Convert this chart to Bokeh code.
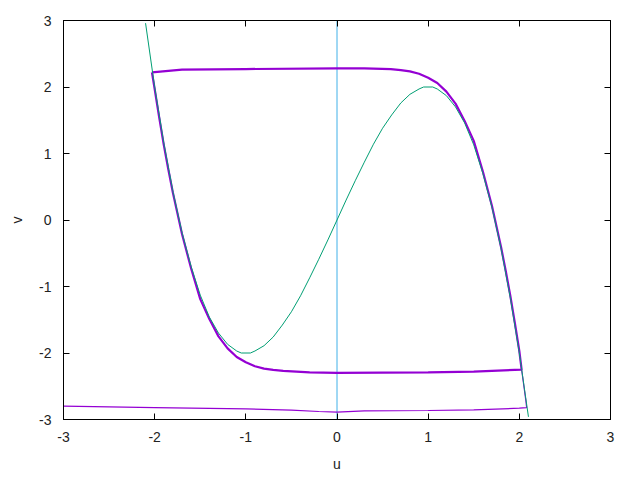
from bokeh.plotting import figure
from bokeh.models import LinearAxis, Range1d, FixedTicker
from bokeh.embed import file_html
from bokeh.resources import INLINE

# nullcline (green)
null_u = [-2.10, -2.0, -1.9, -1.8, -1.7, -1.6, -1.5, -1.4, -1.3, -1.2, -1.1, -1.05, -0.95, -0.9, -0.8, -0.7,
          -0.6, -0.5, -0.4, -0.3, -0.2, -0.1, 0.0, 0.1, 0.2, 0.3, 0.4, 0.5, 0.6, 0.7, 0.8, 0.9, 0.95, 1.05,
          1.1, 1.2, 1.3, 1.4, 1.5, 1.6, 1.7, 1.8, 1.9, 2.0, 2.1]
null_v = [2.96, 2.0, 1.16, 0.43, -0.19, -0.70, -1.13, -1.46, -1.70, -1.87, -1.97, -2.0, -2.0, -1.97, -1.89, -1.76,
          -1.58, -1.38, -1.14, -0.87, -0.59, -0.30, 0.0, 0.30, 0.59, 0.87, 1.14, 1.38, 1.58, 1.76, 1.89, 1.97, 2.0, 2.0,
          1.97, 1.87, 1.70, 1.46, 1.13, 0.70, 0.19, -0.43, -1.16, -2.0, -2.96]

# limit cycle (purple)
cyc_u = [-2.03, -1.7, -1.0, 0.0, 0.3, 0.59, 0.7, 0.8, 0.9, 1.0, 1.1, 1.2, 1.3, 1.4, 1.5, 1.6, 1.7, 1.8, 1.85, 1.9,
         1.95, 2.0, 2.025,
         1.5, 1.0, 0.0, -0.3, -0.59, -0.7, -0.8, -0.9, -1.0, -1.1, -1.2, -1.3, -1.4, -1.5, -1.6, -1.7, -1.8, -1.85,
         -1.9, -1.95, -2.0, -2.03]
cyc_v = [2.22, 2.26, 2.27, 2.28, 2.28, 2.27, 2.255, 2.235, 2.20, 2.14, 2.06, 1.93, 1.75, 1.49, 1.19, 0.73, 0.21, -0.41,
         -0.76, -1.13, -1.54, -1.97, -2.25,
         -2.28, -2.29, -2.30, -2.29, -2.27, -2.255, -2.235, -2.20, -2.14, -2.06, -1.93, -1.75, -1.49, -1.19, -0.73,
         -0.21, 0.41, 0.76, 1.13, 1.54, 1.97, 2.22]

# transient trajectory (purple)
tr_u = [-3.0, -2.0, -1.0, -0.5, -0.2, 0.0, 0.3, 1.0, 1.5, 2.0, 2.08, 2.07, 2.05, 2.025]
tr_v = [-2.80, -2.82, -2.84, -2.86, -2.88, -2.89, -2.87, -2.865, -2.855, -2.83, -2.82, -2.7, -2.5, -2.25]

# vertical line at u = 0
vl_u = [0.0, 0.0]
vl_v = [-3.0, 3.0]

ticks = [-3, -2, -1, 0, 1, 2, 3]
tick_labels = ["-3", "-2", "-1", "0", "1", "2", "3"]

p = figure(width=640, height=480, output_backend="svg", toolbar_location=None,
           x_range=Range1d(-3, 3), y_range=Range1d(-3, 3),
           min_border_left=63, min_border_right=30, min_border_top=20, min_border_bottom=61,
           x_axis_label="u", y_axis_label="v")
p.grid.visible = False
p.outline_line_color = "black"
p.outline_line_width = 1

p.line(vl_u, vl_v, color="#40B0E8", line_width=1)
p.line(tr_u, tr_v, color="#9400D3", line_width=1.2)
p.line(cyc_u, cyc_v, color="#9400D3", line_width=2.2)
p.line(null_u, null_v, color="#009E73", line_width=1)

for ax in [p.xaxis[0], p.yaxis[0]]:
    ax.ticker = FixedTicker(ticks=ticks)
    ax.major_label_overrides = {t: s for t, s in zip(ticks, tick_labels)}
    ax.minor_tick_line_color = None
    ax.major_tick_in = 6
    ax.major_tick_out = 0
    ax.axis_line_color = "black"
    ax.major_label_text_font = "Liberation Sans"
    ax.major_label_text_font_size = "14px"
    ax.major_label_text_color = "#222222"
    ax.axis_label_text_font = "Liberation Sans"
    ax.axis_label_text_font_size = "14px"
    ax.axis_label_text_font_style = "normal"
    ax.axis_label_text_color = "#222222"
    ax.major_label_standoff = 12

p.xaxis[0].axis_label_standoff = 11
p.yaxis[0].axis_label_standoff = 11
p.yaxis[0].major_label_orientation = "horizontal"

for loc in ["right", "above"]:
    a = LinearAxis(ticker=FixedTicker(ticks=ticks))
    a.minor_tick_line_color = None
    a.major_tick_in = 6
    a.major_tick_out = 0
    a.major_label_text_font_size = "1px"
    a.major_label_text_color = None
    a.major_label_standoff = 0
    p.add_layout(a, loc)

open("out.html", "w").write(file_html(p, INLINE))
